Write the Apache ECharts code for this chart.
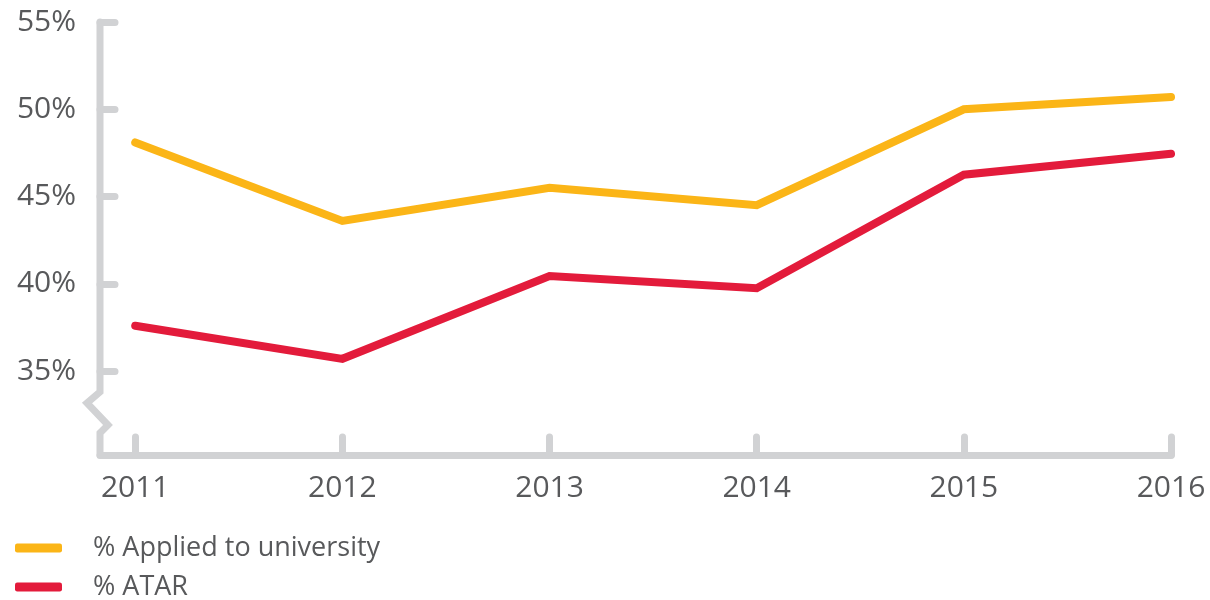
<!DOCTYPE html>
<html lang="en">
<head>
    <meta charset="UTF-8">
    <title>University applications and ATAR</title>
    <style>
        html, body { margin: 0; padding: 0; background: #fff; }
        #chart { width: 1210px; height: 600px; }
    </style>
</head>
<body>
    <div id="chart"></div>
</body>
<script src="https://cdn.jsdelivr.net/npm/echarts@6.0.0/dist/echarts.min.js"></script>
<script>
    // data
    var years = [2011, 2012, 2013, 2014, 2015, 2016];
    var applied = [48.1, 43.6, 45.5, 44.5, 50.0, 50.7];
    var atar = [37.6, 35.7, 40.45, 39.75, 46.25, 47.45];
    var yTicks = [35, 40, 45, 50, 55];
    var names = ['% Applied to university', '% ATAR'];

    var AXIS = '#d1d2d4';
    var TEXT = '#58595b';
    var FONT = 'Open Sans';

    function pairs(vals) {
        return years.map(function (y, i) { return [y, vals[i]]; });
    }

    // one legend per row so they stack like the original
    function legendRow(name, top) {
        return {
            orient: 'vertical',
            left: 15,
            top: top,
            padding: 0,
            itemWidth: 47,
            itemHeight: 9,
            icon: 'roundRect',
            textStyle: {
                color: TEXT, fontSize: 27, fontFamily: FONT,
                lineHeight: 32, padding: [0, 0, 0, 26]
            },
            data: [name]
        };
    }

    var myChart = echarts.init(document.getElementById('chart'));
    var option = {
        animation: false,
        textStyle: { fontFamily: FONT },
        grid: { left: 100, right: 39, top: 22, bottom: 145 },
        xAxis: {
            type: 'value',
            min: 2010.83,
            max: 2016,
            splitLine: { show: false },
            axisLine: { show: true, lineStyle: { color: AXIS, width: 7, cap: 'round' } },
            axisTick: {
                show: true, inside: true, length: 18, customValues: years,
                lineStyle: { color: AXIS, width: 7, cap: 'round' }
            },
            axisLabel: {
                customValues: years, margin: 18,
                color: TEXT, fontSize: 30, fontFamily: FONT,
                formatter: function (v) { return String(v); }
            }
        },
        yAxis: {
            type: 'value',
            min: 30.19,
            max: 55,
            splitLine: { show: false },
            axisLine: { show: false },
            axisTick: {
                show: true, inside: true, length: 15, customValues: yTicks,
                lineStyle: { color: AXIS, width: 7, cap: 'round' }
            },
            axisLabel: {
                customValues: yTicks, margin: 24,
                color: TEXT, fontSize: 30, fontFamily: FONT,
                formatter: '{value}%'
            }
        },
        legend: [legendRow(names[0], 532), legendRow(names[1], 571)],
        series: [{
            name: names[0],
            type: 'line',
            symbol: 'none',
            color: '#fbb517',
            lineStyle: { width: 8, cap: 'round', join: 'miter' },
            data: pairs(applied)
        }, {
            name: names[1],
            type: 'line',
            symbol: 'none',
            color: '#e31b3b',
            lineStyle: { width: 8, cap: 'round', join: 'miter' },
            data: pairs(atar)
        }]
    };
    myChart.setOption(option);

    // y axis line with the zigzag break, placed from the axis scale
    var yTop = myChart.convertToPixel({ yAxisIndex: 0 }, 55);
    var yBottom = myChart.convertToPixel({ yAxisIndex: 0 }, 30.19);
    var x0 = myChart.convertToPixel({ xAxisIndex: 0 }, 2010.83);
    var br = yBottom - 63;
    myChart.setOption({
        graphic: [{
            type: 'polyline',
            z: 10,
            shape: {
                points: [
                    [x0, yTop], [x0, br], [x0 - 13, br + 11],
                    [x0 + 8, br + 33], [x0, br + 41], [x0, yBottom]
                ]
            },
            style: { stroke: AXIS, lineWidth: 7, lineCap: 'round', lineJoin: 'miter', fill: null }
        }]
    });
</script>
</html>
